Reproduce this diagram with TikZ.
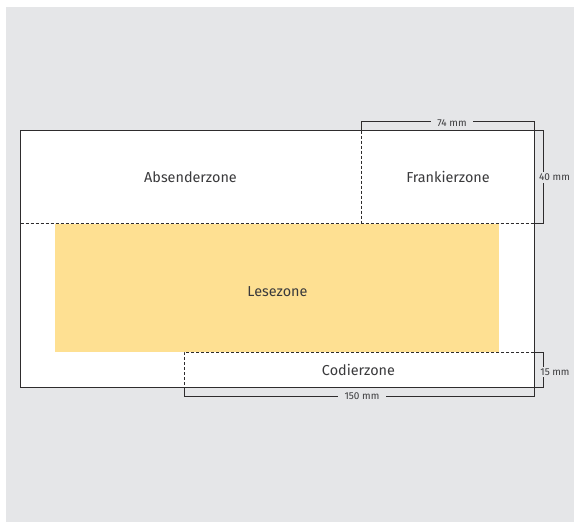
\documentclass[tikz,border=0pt]{standalone}
\usepackage{fontspec}
\setmainfont{Fira Sans}
\definecolor{bgc}{HTML}{E5E6E8}
\definecolor{yel}{HTML}{FEE092}
\definecolor{ink}{HTML}{2E2C2D}
\definecolor{txt}{HTML}{3A3A3C}
\tikzset{
  zone/.style={font=\fontsize{14.4}{17}\selectfont\color{txt}, inner sep=0pt},
  dim/.style={font=\fontsize{10}{12}\selectfont\color{txt}, fill=bgc, inner xsep=6.5pt, inner ysep=2pt},
  dimside/.style={dim, inner xsep=3.5pt},
  solidl/.style={draw=ink, line width=1pt},
  dashl/.style={draw=ink, line width=0.9pt, dash pattern=on 3pt off 2pt},
}
\begin{document}
\begin{tikzpicture}[x=1pt,y=-1pt]
\useasboundingbox (0,0) rectangle (574,522);
\fill[white] (0,0) rectangle (574,522);
\fill[bgc] (6,7) rectangle (574,522);
\fill[white] (20.5,130.5) rectangle (534,387);
\fill[yel] (55,223.5) rectangle (499,352);
\draw[solidl] (20.5,130.5) rectangle (534,387);
% dimension lines
\coordinate (a1) at (361.5,130.5);
\coordinate (a2) at (361.5,121);
\coordinate (a3) at (534,121);
\coordinate (a4) at (534,130.5);
\draw[solidl] (a1) -- (a2) -- (a3) -- (a4);
\node[dim] (d74) at (452,123.5) {74 mm};
\coordinate (b1) at (534,130.5);
\coordinate (b2) at (543.5,130.5);
\coordinate (b3) at (543.5,223.5);
\coordinate (b4) at (534,223.5);
\draw[solidl] (b1) -- (b2) -- (b3) -- (b4);
\node[dimside] (d40) at (554.5,177.5) {40 mm};
\coordinate (c1) at (534,352);
\coordinate (c2) at (543.5,352);
\coordinate (c3) at (543.5,387);
\coordinate (c4) at (534,387);
\draw[solidl] (c1) -- (c2) -- (c3) -- (c4);
\node[dimside] (d15) at (555,372) {15 mm};
\coordinate (e1) at (184,387);
\coordinate (e2) at (184,396.5);
\coordinate (e3) at (534,396.5);
\coordinate (e4) at (534,387);
\draw[solidl] (e1) -- (e2) -- (e3) -- (e4);
\node[dim] (d150) at (362,396.5) {150 mm};
% dashed zones
\draw[dashl] (20.5,223.5) -- (534,223.5);
\draw[dashl] (361.5,130.5) -- (361.5,223.5);
\fill[white] (184,352) rectangle (534,387);
\draw[dashl] (534,352) -- (184,352) -- (184,387);
\draw[solidl] (184,387) -- (534,387) -- (534,352);
\node[zone] (abs) at (190.5,177.2) {Absenderzone};
\node[zone] (fra) at (448,176.8) {Frankierzone};
\node[zone] (les) at (277.5,291.2) {Lesezone};
\node[zone] (cod) at (358.5,370) {Codierzone};
\end{tikzpicture}
\end{document}
